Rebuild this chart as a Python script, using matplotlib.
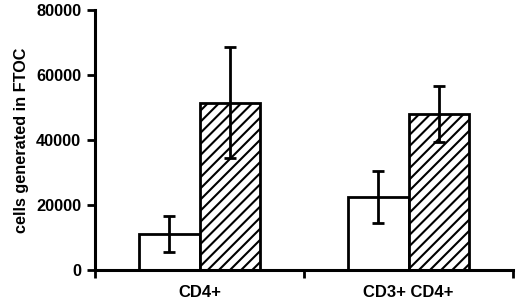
import matplotlib
matplotlib.use("Agg")
import matplotlib.pyplot as plt
import numpy as np

# data
groups = ["CD4+", "CD3+ CD4+"]
open_vals = [11000, 22500]
open_err = [5500, 8000]
hatch_vals = [51500, 48000]
hatch_err = [17000, 8500]

plt.rcParams['font.family'] = ['Liberation Sans', 'DejaVu Sans']
plt.rcParams['font.weight'] = 'bold'
plt.rcParams['hatch.linewidth'] = 1.5

fig = plt.figure(figsize=(5.2, 3.04), dpi=100)
ax = fig.add_axes([0.183, 0.112, 0.8035, 0.855])

x = np.arange(len(groups))
w = 0.29
ax.bar(x - w/2, open_vals, w, color='white', edgecolor='black', linewidth=2, zorder=2)
ax.bar(x + w/2, hatch_vals, w, color='white', edgecolor='black', linewidth=2,
       hatch='///', zorder=2)
ax.errorbar(x - w/2, open_vals, yerr=open_err, fmt='none', ecolor='black',
            elinewidth=2, capsize=4.5, capthick=2, zorder=3)
ax.errorbar(x + w/2, hatch_vals, yerr=hatch_err, fmt='none', ecolor='black',
            elinewidth=2, capsize=4.5, capthick=2, zorder=3)

ax.set_xlim(-0.5, 1.5)
ax.set_ylim(0, 80000)
ax.set_yticks([0, 20000, 40000, 60000, 80000])
ax.set_xticks(x)
ax.set_xticklabels(groups, fontsize=12, fontweight='bold')
ax.set_xticks([-0.5, 0.5, 1.5], minor=True)
ax.tick_params(axis='x', which='major', length=0, pad=11)
ax.tick_params(axis='x', which='minor', length=6, width=2, direction='out')
ax.tick_params(axis='y', length=6, width=2, labelsize=11.8, pad=4)
for lab in ax.get_yticklabels():
    lab.set_fontweight('bold')
ax.set_ylabel("cells generated in FTOC", fontsize=11.7, fontweight='bold', labelpad=5)

for s in ['top', 'right']:
    ax.spines[s].set_visible(False)
for s in ['left', 'bottom']:
    ax.spines[s].set_linewidth(2.2)

fig.savefig("out.png", dpi=100)
